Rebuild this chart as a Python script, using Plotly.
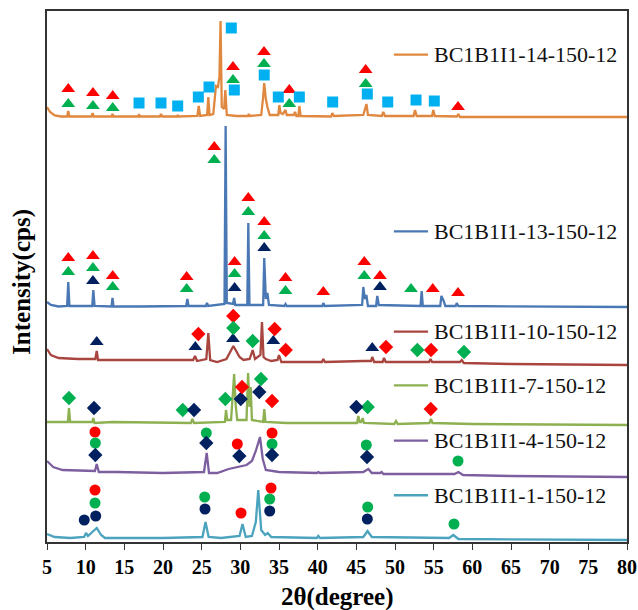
import plotly.graph_objects as go

# ---------------- data: XRD patterns (2θ in degrees, intensity in a.u.) ----------------
labels = ["BC1B1I1-14-150-12", "BC1B1I1-13-150-12", "BC1B1I1-10-150-12",
          "BC1B1I1-7-150-12", "BC1B1I1-4-150-12", "BC1B1I1-1-150-12"]
offsets = [425, 235, 177, 117, 65, 0]
line_colors = ["#E0883F", "#4A78B5", "#A8453F", "#8DB050", "#7D5FA0", "#4BA3BE"]

x14 = [5.0, 5.4, 6.0, 6.8, 7.6, 7.75, 7.9, 10.75, 10.9, 11.05, 13.35, 13.47, 13.6, 16.8, 16.9, 17.0,
       19.6, 19.74, 19.9, 21.8, 21.9, 22.0, 24.45, 24.62, 24.8, 25.7, 25.86, 26.02, 26.5, 26.85, 27.1,
       27.3, 27.44, 27.6, 27.9, 28.06, 28.25, 29.5, 31.0, 31.1, 31.25, 32.7, 32.95, 33.09, 33.3, 33.5,
       33.8, 34.9, 35.04, 35.2, 35.5, 35.84, 36.0, 36.9, 37.07, 37.25, 37.5, 37.63, 37.8, 40.0, 41.75,
       41.89, 42.1, 45.9, 46.31, 46.5, 48.3, 48.49, 48.7, 52.4, 52.59, 52.8, 54.8, 54.95, 55.15, 58.0,
       58.19, 58.4, 62, 70, 80]
y14 = [10, 5, 1.5, 0.5, 0.5, 6, 0.5, 0.5, 4, 0.5, 0.5, 3, 0.5, 0.5, 3, 0.5,
       0.5, 3, 0.5, 0.5, 2, 0.5, 1, 11, 1, 2, 20, 2, 3, 31, 30,
       40, 96, 10, 8, 27, 2, 1, 1, 3, 1, 2, 20, 34, 18, 10,
       2, 2, 12, 4, 3, 7, 2, 2, 5, 1, 1, 11, 1, 1, 0.5,
       4, 1, 2, 13, 2, 1, 5, 1, 1, 7, 1, 1, 7, 1, 0.5,
       3, 0, 0, 0, 0]

x13 = [5.0, 5.5, 6.5, 7.6, 7.75, 7.9, 10.85, 10.99, 11.15, 13.35, 13.47, 13.6, 17.0, 20.0, 23.0, 23.15,
       23.3, 25.55, 25.69, 25.85, 27.95, 28.1, 28.25, 29.05, 29.2, 29.35, 30.9, 31.03, 31.18, 32.95,
       33.09, 33.3, 33.5, 33.7, 35.7, 35.84, 36.0, 40.6, 40.73, 40.9, 45.75, 45.9, 46.1, 46.3, 46.5,
       47.55, 47.71, 47.9, 53.3, 53.45, 53.6, 55.85, 56.0, 56.3, 56.5, 57.85, 57.98, 58.2, 65, 80]
y13 = [5, 2, 0.5, 1, 25, 1, 1, 17, 1, 0.5, 9, 0.5, 0.5, 1, 1, 8,
       1, 1, 4, 1, 3, 181, 4, 3, 9, 2, 2, 84, 2, 2,
       49, 8, 14, 2, 1, 3, 1, 1, 4, 1, 2, 20, 8, 12, 1,
       1, 11, 2, 1, 16, 1, 1, 11, 6, 1, 1, 4, 1, 0.5, 0]

x10 = [5.0, 5.5, 6.5, 9.0, 11.25, 11.43, 11.6, 15.0, 20.0, 23.0, 23.9, 24.14, 24.4, 25.6, 25.86, 26.1,
       27.0, 28.2, 29.1, 29.9, 30.4, 31.2, 31.6, 31.9, 32.6, 32.8, 33.0, 33.3, 34.0, 34.8, 35.0, 35.3,
       38.0, 40.55, 40.73, 40.95, 45.9, 46.9, 47.06, 47.3, 48.4, 48.58, 48.8, 54.4, 54.59, 54.8, 58.4,
       58.63, 58.9, 65, 80]
y10 = [16, 10, 7, 6, 6, 14, 5, 5, 5, 5, 5, 9, 4, 6, 32, 5,
       3, 6, 19, 8, 5, 6, 15, 6, 10, 43, 8, 6, 4, 5, 10, 3,
       3, 3, 6, 3, 4, 4, 8, 3, 3, 7, 3, 3, 6, 3, 3,
       5, 2, 1, 0]

x7 = [5.0, 7.7, 7.84, 8.0, 10.85, 10.99, 11.15, 13.5, 23.6, 23.8, 24.0, 28.0, 28.15, 28.3, 28.8, 29.05,
      29.2, 29.4, 29.6, 30.8, 31.0, 31.2, 31.34, 31.5, 32.95, 33.1, 33.25, 36.0, 45.1, 45.25, 45.45,
      45.65, 45.82, 46.0, 49.9, 50.13, 50.35, 54.45, 54.65, 54.85, 60.0, 80]
y7 = [3, 3, 17, 3, 3, 7, 2, 3, 2, 6, 2, 3, 15, 5, 5, 30,
      51, 20, 5, 5, 52, 18, 38, 5, 3, 16, 3, 2, 2, 9, 3,
      3, 7, 2, 1, 4, 1, 2, 6, 2, 1, 0]

x4 = [5.0, 5.8, 7.0, 10.0, 11.2, 11.43, 11.7, 14.0, 20.0, 25.3, 25.65, 25.95, 27.0, 28.5, 30.0, 30.8,
      31.5, 32.0, 32.54, 32.9, 33.3, 35.0, 39.9, 40.08, 40.3, 45.9, 46.55, 47.0, 48.1, 48.28, 48.5,
      55.0, 57.7, 58.19, 58.8, 65, 80]
y4 = [16, 10, 7, 6, 6, 13, 5, 5, 4, 5, 24, 4, 4, 8, 11, 12,
      16, 26, 40, 18, 7, 5, 4, 5, 4, 5, 8, 4, 4, 5, 3,
      3, 3, 5, 2, 1, 0]

x1 = [5.0, 6.0, 8.0, 9.8, 10.04, 10.3, 11.43, 12.0, 12.5, 20.0, 25.1, 25.5, 25.9, 27.5, 29.9, 30.28,
      30.7, 31.5, 32.0, 32.32, 32.7, 33.2, 33.54, 34.0, 39.9, 40.08, 40.3, 45.9, 46.45, 47.0, 57.0,
      57.54, 58.2, 80]
y1 = [8, 5, 4, 5, 9, 6, 14, 7, 4, 4, 5, 20, 5, 4, 6, 18,
      5, 6, 20, 52, 12, 7, 9, 5, 4, 6, 4, 5, 11, 5, 4,
      7, 3, 2]

patterns_x = [x14, x13, x10, x7, x4, x1]
patterns_y = [y14, y13, y10, y7, y4, y1]

# ---------------- phase markers (2θ, height above each pattern baseline) ----------------
RED, GREEN, NAVY, CYAN = "#FF0000", "#00B050", "#002060", "#00B0F0"

m14_red_tri_x = [7.75, 10.94, 13.5, 29.05, 33.06, 36.33, 46.21, 58.15]
m14_red_tri_y = [28, 24, 21, 50, 65, 27, 47, 10]
m14_green_tri_x = [7.75, 10.94, 13.5, 29.05, 33.06, 36.33, 46.21]
m14_green_tri_y = [13, 11, 9, 37, 53, 13, 33]
m14_square_x = [16.9, 19.74, 21.9, 24.57, 25.95, 28.83, 29.22, 33.09, 34.91, 37.63, 41.94, 46.42, 49.06, 52.72, 55.08]
m14_square_y = [14, 14, 11, 20, 30, 89, 27, 42, 20, 20, 15, 23, 15, 17, 16]

m13_red_tri_x = [7.75, 10.94, 13.5, 23.06, 26.63, 29.26, 31.03, 33.09, 35.84, 40.73, 46.03, 48.06, 54.88, 58.15]
m13_red_tri_y = [49, 51, 31, 30, 160, 45, 109, 85, 29, 15, 45, 31, 18, 14]
m13_green_tri_x = [7.75, 10.94, 13.5, 23.06, 26.63, 29.26, 31.03, 33.09, 35.84, 46.03, 52.07]
m13_green_tri_y = [35, 39, 20, 18, 147, 33, 95, 71, 16, 31, 18]
m13_navy_tri_x = [10.94, 29.26, 33.09, 48.06]
m13_navy_tri_y = [26, 19, 59, 20]

m10_navy_tri_x = [11.43, 24.18, 29.05, 34.26, 47.06]
m10_navy_tri_y = [23, 18, 26, 24, 17]
m10_red_dia_x = [24.57, 29.09, 34.44, 35.87, 48.84, 54.66]
m10_red_dia_y = [31, 49, 36, 15, 18, 15]
m10_green_dia_x = [29.09, 31.6, 52.89, 58.92]
m10_green_dia_y = [37, 24, 15, 13]

m7_green_dia_x = [7.84, 22.55, 28.06, 32.67, 46.47]
m7_green_dia_y = [27, 15, 26, 46, 18]
m7_navy_dia_x = [11.08, 24.01, 30.05, 32.45, 45.0]
m7_navy_dia_y = [17, 15, 26, 33, 18]
m7_red_dia_x = [30.22, 34.10, 54.62]
m7_red_dia_y = [38, 24, 16]

m4_red_circ_x = [11.21, 29.61, 34.10]
m4_red_circ_y = [45, 33, 44]
m4_green_circ_x = [11.25, 25.6, 34.10, 46.29, 58.15]
m4_green_circ_y = [34, 44, 33, 32, 16]
m4_navy_dia_x = [11.25, 25.6, 29.87, 34.10, 46.38]
m4_navy_dia_y = [22, 34, 21, 22, 20]

m1_navy_circ_x = [9.82, 11.30, 25.43, 33.8, 46.42]
m1_navy_circ_y = [22, 26, 33, 31, 23]
m1_green_circ_x = [11.21, 25.39, 33.8, 46.47, 57.63]
m1_green_circ_y = [39, 45, 43, 35, 18]
m1_red_circ_x = [11.21, 30.09, 33.97]
m1_red_circ_y = [52, 29, 54]

# (pattern index, symbol, colour, x, y)
marker_groups = [
    (0, "triangle-up", RED, m14_red_tri_x, m14_red_tri_y),
    (0, "triangle-up", GREEN, m14_green_tri_x, m14_green_tri_y),
    (0, "square", CYAN, m14_square_x, m14_square_y),
    (1, "triangle-up", RED, m13_red_tri_x, m13_red_tri_y),
    (1, "triangle-up", GREEN, m13_green_tri_x, m13_green_tri_y),
    (1, "triangle-up", NAVY, m13_navy_tri_x, m13_navy_tri_y),
    (2, "triangle-up", NAVY, m10_navy_tri_x, m10_navy_tri_y),
    (2, "diamond", RED, m10_red_dia_x, m10_red_dia_y),
    (2, "diamond", GREEN, m10_green_dia_x, m10_green_dia_y),
    (3, "diamond", GREEN, m7_green_dia_x, m7_green_dia_y),
    (3, "diamond", NAVY, m7_navy_dia_x, m7_navy_dia_y),
    (3, "diamond", RED, m7_red_dia_x, m7_red_dia_y),
    (4, "circle", RED, m4_red_circ_x, m4_red_circ_y),
    (4, "circle", GREEN, m4_green_circ_x, m4_green_circ_y),
    (4, "diamond", NAVY, m4_navy_dia_x, m4_navy_dia_y),
    (5, "circle", NAVY, m1_navy_circ_x, m1_navy_circ_y),
    (5, "circle", GREEN, m1_green_circ_x, m1_green_circ_y),
    (5, "circle", RED, m1_red_circ_x, m1_red_circ_y),
]
marker_sizes = {"triangle-up": 12, "square": 11, "diamond": 11, "circle": 11}

# legend label vertical positions (plot fraction)
legend_y = [0.918, 0.585, 0.396, 0.295, 0.191, 0.088]

fig = go.Figure()
for i in range(6):
    fig.add_trace(go.Scatter(
        x=patterns_x[i], y=[v + offsets[i] for v in patterns_y[i]],
        mode="lines", line=dict(color=line_colors[i], width=2.3),
        name=labels[i], showlegend=False, hoverinfo="skip"))

for idx, sym, col, mx, my in marker_groups:
    fig.add_trace(go.Scatter(
        x=mx, y=[v + offsets[idx] for v in my], mode="markers",
        marker=dict(symbol=sym, color=col, size=marker_sizes[sym], line=dict(width=0)),
        showlegend=False, hoverinfo="skip"))

for i in range(6):
    fig.add_shape(type="line", xref="paper", yref="paper",
                  x0=0.598, x1=0.657, y0=legend_y[i], y1=legend_y[i],
                  line=dict(color=line_colors[i], width=2.3))
    fig.add_annotation(xref="paper", yref="paper", x=0.664, y=legend_y[i],
                       text=labels[i], showarrow=False, xanchor="left", yanchor="middle",
                       font=dict(family="Liberation Serif", size=22, color="#111111"))

fig.add_annotation(xref="paper", yref="paper", x=0.5, y=-0.104, text="<b>2θ(degree)</b>",
                   showarrow=False, xanchor="center", yanchor="middle",
                   font=dict(family="Liberation Serif", size=25, color="black"))
fig.add_annotation(xref="paper", yref="paper", x=-0.043, y=0.49, text="<b>Intensity(cps)</b>",
                   showarrow=False, textangle=-90, xanchor="center", yanchor="middle",
                   font=dict(family="Liberation Serif", size=25, color="black"))

fig.update_layout(
    width=638, height=610,
    margin=dict(l=47, r=11, t=11, b=68, autoexpand=False),
    paper_bgcolor="white", plot_bgcolor="white",
    showlegend=False,
    xaxis=dict(range=[5, 80], dtick=5, tick0=5, ticks="outside", ticklen=6, tickwidth=1.2,
               tickcolor="#333333", showline=True, linecolor="#333333", linewidth=1.5,
               mirror=True, showgrid=False, zeroline=False, automargin=False,
               tickfont=dict(family="Liberation Serif", size=20, color="black", weight="bold")),
    yaxis=dict(range=[0, 531], showticklabels=False, ticks="", showline=True, automargin=False,
               linecolor="#333333", linewidth=1.5, mirror=True, showgrid=False, zeroline=False),
)

fig.write_html("out.html")
